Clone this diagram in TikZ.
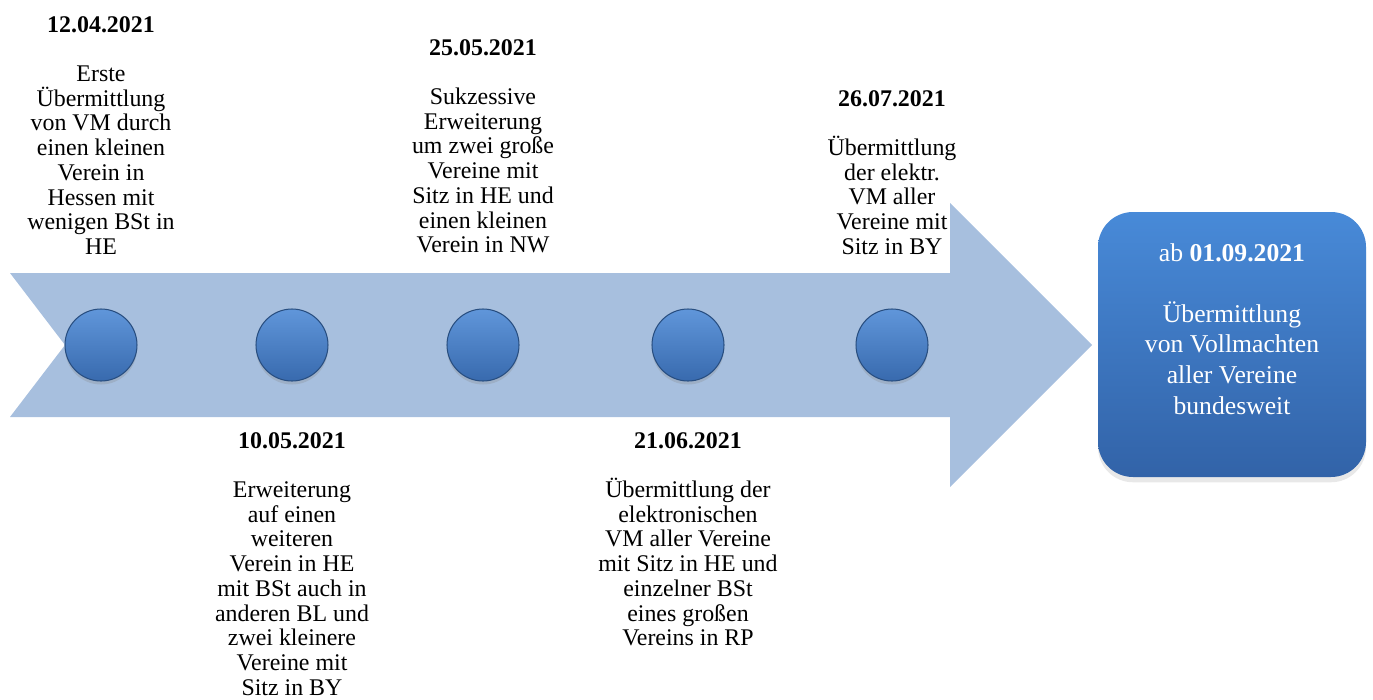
\documentclass[tikz,border=0pt]{standalone}
\usepackage{fontspec}
\setmainfont{Liberation Serif}
\usetikzlibrary{shadows}
\definecolor{arrowblue}{RGB}{167,191,222}
\definecolor{dottop}{RGB}{96,150,218}
\definecolor{dotbottom}{RGB}{56,106,174}
\definecolor{dotrim}{RGB}{40,78,128}
\definecolor{boxtop}{RGB}{72,138,216}
\definecolor{boxbottom}{RGB}{50,99,168}

\begin{document}
\begin{tikzpicture}[x=.02cm,y=-.02cm,line join=round,
  dot/.style={circle,minimum size=1.44cm,inner sep=0pt,top color=dottop,bottom color=dotbottom,
    draw=dotrim,line width=.6pt,drop shadow={opacity=.25,shadow xshift=0pt,shadow yshift=-2pt}},
  txt/.style={anchor=north,align=center,inner sep=0pt,font={\fontsize{13.6}{14.05}\selectfont}},
  goal/.style={rounded corners=.7cm,top color=boxtop,bottom color=boxbottom,draw=none,
    drop shadow={opacity=.18,shadow xshift=0pt,shadow yshift=-3pt}}]
\useasboundingbox (0,0) rectangle (1373,700);
% big arrow
\fill[arrowblue](10,273)--(950,273)--(950,203)--(1092,345)--(950,487)--(950,417)--(10,417)--(65,345)--cycle;
% dots
\node[dot] (d1) at (101,345) {};
\node[dot] (d2) at (292,345) {};
\node[dot] (d3) at (483,345) {};
\node[dot] (d4) at (688,345) {};
\node[dot] (d5) at (892,345) {};
% texts above
\node[txt] (t1) at (101,16) {\textbf{12.04.2021}\\[14.05pt]Erste\\Übermittlung\\von VM durch\\einen kleinen\\Verein in\\Hessen mit\\wenigen BSt in\\HE};
\node[txt] (t3) at (483,39) {\textbf{25.05.2021}\\[14.05pt]Sukzessive\\Erweiterung\\um zwei große\\Vereine mit\\Sitz in HE und\\einen kleinen\\Verein in NW};
\node[txt] (t5) at (892,90) {\textbf{26.07.2021}\\[14.05pt]Übermittlung\\der elektr.\\VM aller\\Vereine mit\\Sitz in BY};
% texts below
\node[txt] (t2) at (292,432) {\textbf{10.05.2021}\\[14.05pt]Erweiterung\\auf einen\\weiteren\\Verein in HE\\mit BSt auch in\\anderen BL und\\zwei kleinere\\Vereine mit\\Sitz in BY};
\node[txt] (t4) at (688,432) {\textbf{21.06.2021}\\[14.05pt]Übermittlung der\\elektronischen\\VM aller Vereine\\mit Sitz in HE und\\einzelner BSt\\eines großen\\Vereins in RP};
% goal box
\path[goal] (1098,212) rectangle (1366,477);
\node[txt,text=white,font={\fontsize{14.6}{17.4}\selectfont}] (goal) at (1232,243) {ab \textbf{01.09.2021}\\[17.4pt]Übermittlung\\von Vollmachten\\aller Vereine\\bundesweit};
\end{tikzpicture}
\end{document}
